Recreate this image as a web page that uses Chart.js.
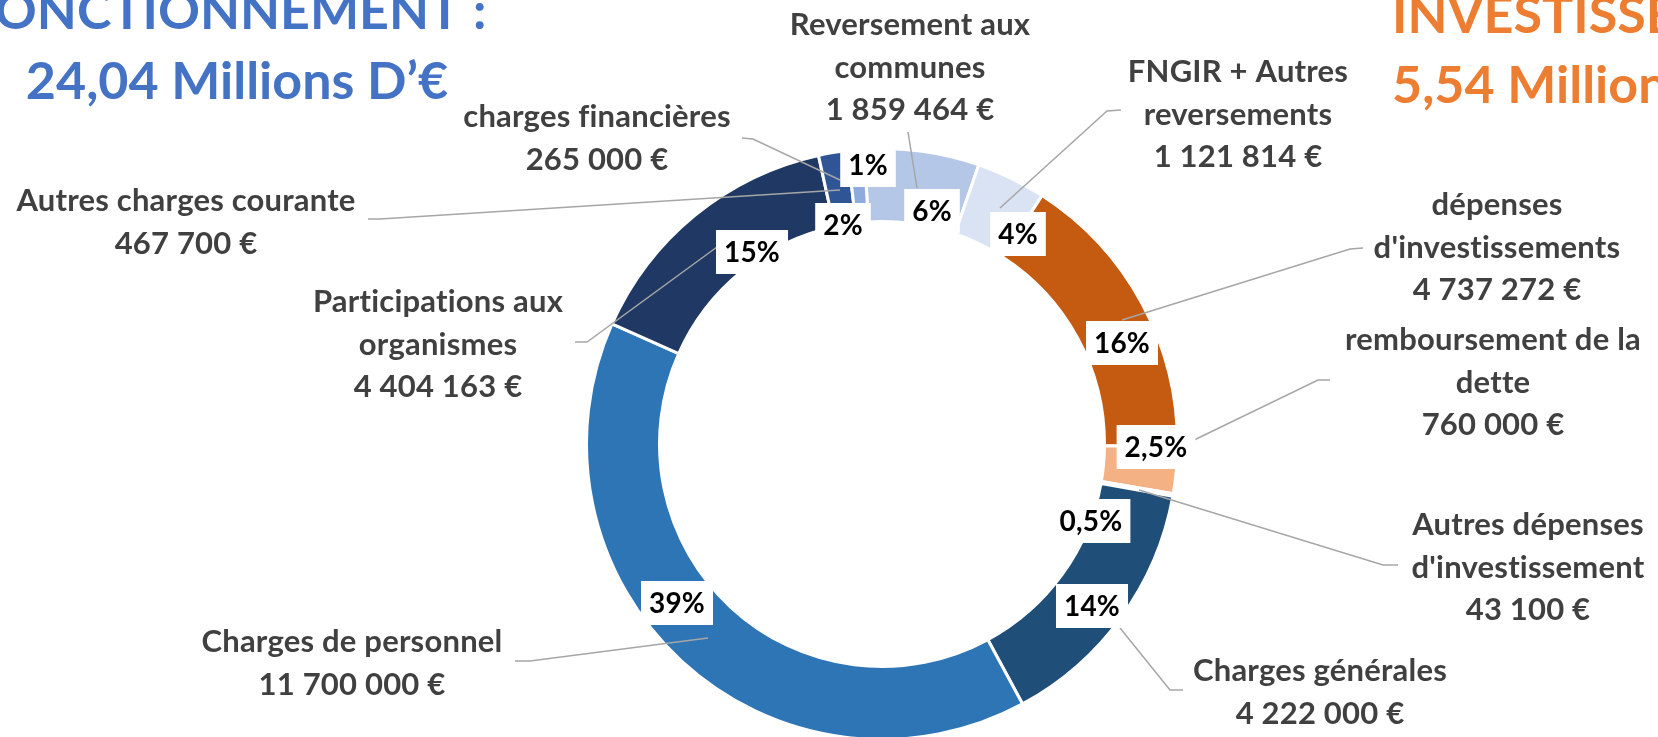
<!DOCTYPE html>
<html lang="fr">
<head>
<meta charset="utf-8">
<title>Répartition des dépenses</title>
<script src="https://cdn.jsdelivr.net/npm/chart.js@4.4.1/dist/chart.umd.min.js"></script>
<style>
  html, body { margin: 0; padding: 0; background: #fff; overflow: hidden; }
  #wrap { position: relative; width: 1658px; height: 737px; }
</style>
</head>
<body>
<div id="wrap"><canvas id="budgetChart" width="1658" height="737"></canvas></div>
<script>
// postes de dépenses, dans l'ordre du tracé (sens horaire)
const categories = ['Reversement aux communes', 'FNGIR + Autres reversements', "dépenses d'investissements", 'remboursement de la dette', "Autres dépenses d'investissement", 'Charges générales', 'Charges de personnel', 'Participations aux organismes', 'Autres charges courante', 'charges financières'];
const amounts = [1859464, 1121814, 4737272, 760000, 43100, 4222000, 11700000, 4404163, 467700, 265000];
const pctLabels = ['6%', '4%', '16%', '2,5%', '0,5%', '14%', '39%', '15%', '2%', '1%'];
const labelLines = [
  ['Reversement aux', 'communes'],
  ['FNGIR + Autres', 'reversements'],
  ['dépenses', "d'investissements"],
  ['remboursement de la', 'dette'],
  ['Autres dépenses', "d'investissement"],
  ['Charges générales'],
  ['Charges de personnel'],
  ['Participations aux', 'organismes'],
  ['Autres charges courante'],
  ['charges financières']
];
const titleLeft = ['FONCTIONNEMENT :', '24,04 Millions D’€'];
const titleRight = ['INVESTISSEMENT :', '5,54 Millions D’€'];

const sliceColors = ['#B4C7E7', '#DAE3F3', '#C55A11', '#F4B183', '#1F4E79', '#1F4E79', '#2E75B6', '#203864', '#2F5597', '#8FAADC'];

// placement manuel des étiquettes (comme dans le classeur d'origine)
const labelPos = [[910, 35], [1238, 82], [1497, 215], [1493, 350], [1528, 535], [1320, 681], [352, 652], [438, 312], [186, 211], [597, 127]];
const pctPos = [[932, 211], [1018, 234], [1122, 343], [1156, 447], [1091, 521], [1092, 606], [677, 603], [752, 252], [843, 225], [868, 165]];
const leaderLines = [
  [[908, 132], [917, 188]],
  [[1121, 110], [1107, 111], [1000, 208]],
  [[1363, 248], [1350, 249], [1122, 320]],
  [[1330, 380], [1318, 380], [1190, 442]],
  [[1398, 565], [1383, 565], [1139, 490]],
  [[1183, 690], [1170, 690], [1120, 628]],
  [[515, 661], [530, 661], [708, 638]],
  [[575, 342], [587, 342], [717, 247]],
  [[368, 219], [380, 219], [840, 190]],
  [[742, 138], [753, 139], [840, 180]]
];

const FONT = 'Lato, "Open Sans", sans-serif';
const LINE_H = 42.5;

function fmtEuro(v) {
  return String(v).replace(/\B(?=(\d{3})+(?!\d))/g, ' ') + ' €';
}

const annotations = {
  id: 'annotations',
  afterDatasetsDraw(chart) {
    const ctx = chart.ctx;
    ctx.save();
    // un léger espacement évite les ligatures fi / ti de Lato
    if ('letterSpacing' in ctx) ctx.letterSpacing = '0.2px';

    ctx.strokeStyle = '#A6A6A6';
    ctx.lineWidth = 1.5;
    leaderLines.forEach(pts => {
      ctx.beginPath();
      pts.forEach((p, i) => i ? ctx.lineTo(p[0], p[1]) : ctx.moveTo(p[0], p[1]));
      ctx.stroke();
    });

    ctx.textAlign = 'center';
    ctx.textBaseline = 'alphabetic';
    ctx.font = 'bold 28px ' + FONT;
    pctLabels.forEach((t, i) => {
      const [x, y] = pctPos[i];
      const w = ctx.measureText(t).width + 16;
      ctx.fillStyle = '#FFFFFF';
      ctx.fillRect(x - w / 2, y - 22, w, 44);
      ctx.fillStyle = '#000000';
      ctx.fillText(t, x, y + 10);
    });

    ctx.font = 'bold 31px ' + FONT;
    ctx.fillStyle = '#404040';
    categories.forEach((c, i) => {
      const lines = labelLines[i].concat([fmtEuro(amounts[i])]);
      const [x, y] = labelPos[i];
      lines.forEach((l, k) => ctx.fillText(l, x, y + k * LINE_H));
    });

    if ('letterSpacing' in ctx) ctx.letterSpacing = '0px';
    ctx.font = 'bold 52px ' + FONT;
    ctx.fillStyle = '#4472C4';
    ctx.textAlign = 'center';
    ctx.fillText(titleLeft[0], 226, 29);
    ctx.fillText(titleLeft[1], 237, 99);
    ctx.fillStyle = '#ED7D31';
    ctx.textAlign = 'left';
    ctx.fillText(titleRight[0], 1392, 33);
    ctx.fillText(titleRight[1], 1392, 103);

    ctx.restore();
  }
};

new Chart(document.getElementById('budgetChart'), {
  type: 'doughnut',
  data: {
    labels: categories,
    datasets: [{
      data: amounts,
      backgroundColor: sliceColors,
      borderColor: '#FFFFFF',
      borderWidth: 3,
      clip: false
    }]
  },
  options: {
    responsive: false,
    animation: false,
    devicePixelRatio: 1,
    rotation: -3.5,
    radius: 295.5,
    cutout: '75.3%',
    layout: { padding: { left: 106, top: 151, right: 0, bottom: 0 } },
    plugins: { legend: { display: false }, tooltip: { enabled: false } }
  },
  plugins: [annotations]
});
</script>
</body>
</html>
